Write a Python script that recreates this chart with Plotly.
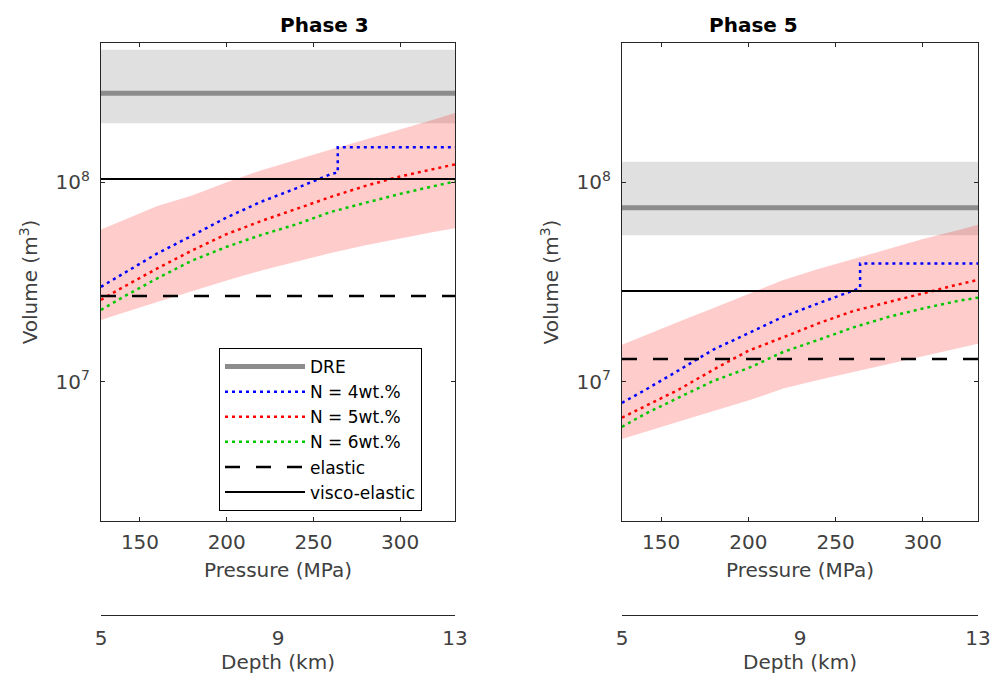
import plotly.graph_objects as go

# Pressure grid (MPa) shared by the model curves and uncertainty envelopes
pressure = [127.5, 140, 160, 180, 200, 220, 240, 260, 280, 300, 320, 331.6]
# Blue curve has a vertical step near 264 MPa
pressure_step = [127.5, 140, 160, 180, 200, 220, 240, 260, 264, 264, 331.6]

p_range = [127.53, 331.58]   # 5-13 km lithostatic
depth_range = [5, 13]
depth_ticks = [5, 9, 13]
pressure_ticks = [150, 200, 250, 300]
vol_ticks = [1e7, 1e8]
vol_ticktext = ["10<sup>7</sup>", "10<sup>8</sup>"]
vol_range = [2e6, 5e8]

# ---- Phase 3 ----
p3_n4 = [2.99e7, 3.47e7, 4.4e7, 5.4e7, 6.67e7, 8.0e7, 9.33e7, 1.1e8, 1.12e8, 1.5e8, 1.5e8]
p3_n5 = [2.57e7, 2.97e7, 3.7e7, 4.55e7, 5.5e7, 6.4e7, 7.35e7, 8.45e7, 9.6e7, 1.07e8, 1.17e8, 1.23e8]
p3_n6 = [2.29e7, 2.65e7, 3.3e7, 4.05e7, 4.75e7, 5.45e7, 6.15e7, 7.1e7, 7.9e7, 8.75e7, 9.6e7, 1.01e8]
p3_env_hi = [5.8e7, 6.45e7, 7.6e7, 8.6e7, 1.0e8, 1.15e8, 1.29e8, 1.46e8, 1.64e8, 1.84e8, 2.07e8, 2.23e8]
p3_env_lo = [2.04e7, 2.21e7, 2.51e7, 2.85e7, 3.22e7, 3.61e7, 4.01e7, 4.42e7, 4.84e7, 5.25e7, 5.65e7, 5.89e7]
p3_dre = 2.8e8
p3_dre_band = [1.98e8, 4.62e8]
p3_visco = 1.04e8
p3_elastic = 2.69e7

# ---- Phase 5 ----
p5_n4 = [7.83e6, 9.0e6, 1.14e7, 1.45e7, 1.75e7, 2.12e7, 2.47e7, 2.85e7, 2.95e7, 3.92e7, 3.92e7]
p5_n5 = [6.6e6, 7.5e6, 9.12e6, 1.15e7, 1.43e7, 1.67e7, 1.96e7, 2.26e7, 2.51e7, 2.77e7, 3.07e7, 3.24e7]
p5_n6 = [5.93e6, 6.84e6, 8.32e6, 1.01e7, 1.17e7, 1.41e7, 1.62e7, 1.87e7, 2.11e7, 2.33e7, 2.54e7, 2.64e7]
p5_env_hi = [1.53e7, 1.7e7, 2.0e7, 2.34e7, 2.75e7, 3.24e7, 3.67e7, 4.12e7, 4.62e7, 5.19e7, 5.75e7, 6.12e7]
p5_env_lo = [5.15e6, 5.57e6, 6.31e6, 7.13e6, 8.04e6, 9.23e6, 1.02e7, 1.12e7, 1.23e7, 1.35e7, 1.47e7, 1.55e7]
p5_dre = 7.45e7
p5_dre_band = [5.42e7, 1.27e8]
p5_visco = 2.85e7
p5_elastic = 1.3e7

names = ["DRE", "N = 4wt.%", "N = 5wt.%", "N = 6wt.%", "elastic", "visco-elastic"]

FONT = "DejaVu Sans"
AX = "#262626"
TXT = "#404040"
FS = 20

fig = go.Figure()


def add_panel(xa, ya, n4, n5, n6, hi, lo, dre, dre_band, visco, elastic, legend):
    x0, x1 = p_range
    common = dict(xaxis=xa, yaxis=ya, hoverinfo="skip")
    # DRE uncertainty band
    fig.add_trace(go.Scatter(x=[x0, x1, x1, x0], y=[dre_band[0], dre_band[0], dre_band[1], dre_band[1]],
                             fill="toself", fillcolor="#e0e0e0", line=dict(width=0),
                             mode="lines", showlegend=False, **common))
    # model envelope
    fig.add_trace(go.Scatter(x=pressure + pressure[::-1], y=hi + lo[::-1],
                             fill="toself", fillcolor="rgba(255,0,0,0.2)", line=dict(width=0),
                             mode="lines", showlegend=False, **common))
    fig.add_trace(go.Scatter(x=[x0, x1], y=[dre, dre], mode="lines", name=names[0],
                             line=dict(color="#8c8c8c", width=5), showlegend=legend, **common))
    dot = "3px,4px"
    fig.add_trace(go.Scatter(x=pressure_step, y=n4, mode="lines", name=names[1],
                             line=dict(color="#0000ff", width=2.5, dash=dot), showlegend=legend, **common))
    fig.add_trace(go.Scatter(x=pressure, y=n5, mode="lines", name=names[2],
                             line=dict(color="#ff0000", width=2.5, dash=dot), showlegend=legend, **common))
    fig.add_trace(go.Scatter(x=pressure, y=n6, mode="lines", name=names[3],
                             line=dict(color="#00c800", width=2.5, dash=dot), showlegend=legend, **common))
    fig.add_trace(go.Scatter(x=[x0, x1], y=[elastic, elastic], mode="lines", name=names[4],
                             line=dict(color="black", width=2.5, dash="15px,16px"), showlegend=legend, **common))
    fig.add_trace(go.Scatter(x=[x0, x1], y=[visco, visco], mode="lines", name=names[5],
                             line=dict(color="black", width=2), showlegend=legend, **common))


add_panel("x", "y", p3_n4, p3_n5, p3_n6, p3_env_hi, p3_env_lo, p3_dre, p3_dre_band, p3_visco, p3_elastic, True)
add_panel("x2", "y2", p5_n4, p5_n5, p5_n6, p5_env_hi, p5_env_lo, p5_dre, p5_dre_band, p5_visco, p5_elastic, False)

# invisible carriers for the depth axes
for xa, ya in (("x3", "y"), ("x4", "y2")):
    fig.add_trace(go.Scatter(x=depth_range, y=[vol_range[0], vol_range[0]], mode="lines",
                             line=dict(width=0), opacity=0, showlegend=False, hoverinfo="skip",
                             xaxis=xa, yaxis=ya))

W, H = 994, 674
ml, mr, mt, mb = 101, 16, 43, 59
pw = W - ml - mr
ph = H - mt - mb
dom_left = [0, (455 - ml) / pw]
dom_right = [(622 - ml) / pw, 1]
ydom = [(H - mb - 521) / ph, 1]

xcommon = dict(type="linear", range=p_range, tickvals=pressure_ticks, ticks="inside", ticklen=4,
               tickcolor=AX, showline=True, linecolor=AX, linewidth=1.2, mirror="ticks",
               showgrid=False, zeroline=False, ticklabelstandoff=3, automargin=False,
               tickfont=dict(family=FONT, size=FS, color=TXT),
               title=dict(text="Pressure (MPa)", font=dict(family=FONT, size=FS, color=TXT), standoff=9))
ycommon = dict(type="log", range=[6.30103, 8.69897], tickvals=vol_ticks, ticktext=vol_ticktext,
               ticks="inside", ticklen=4, tickcolor=AX, showline=True, linecolor=AX, linewidth=1.2,
               mirror="ticks", showgrid=False, zeroline=False, ticklabelstandoff=6, domain=ydom,
               automargin=False, tickfont=dict(family=FONT, size=FS, color=TXT),
               title=dict(text="Volume (m<sup>3</sup>)", font=dict(family=FONT, size=FS, color=TXT), standoff=12))
dcommon = dict(type="linear", range=depth_range, tickvals=depth_ticks, anchor="free", position=0,
               ticks="outside", ticklen=5, tickcolor="rgba(0,0,0,0)", showline=True, linecolor=AX,
               linewidth=1.2, showgrid=False, zeroline=False, automargin=False,
               tickfont=dict(family=FONT, size=FS, color=TXT),
               title=dict(text="Depth (km)", font=dict(family=FONT, size=FS, color=TXT), standoff=8))

fig.update_layout(
    width=W, height=H,
    margin=dict(l=ml, r=mr, t=mt, b=mb, autoexpand=False),
    paper_bgcolor="white", plot_bgcolor="rgba(0,0,0,0)",
    xaxis=dict(domain=dom_left, anchor="y", **xcommon),
    yaxis=dict(anchor="x", **ycommon),
    xaxis2=dict(domain=dom_right, anchor="y2", **xcommon),
    yaxis2=dict(anchor="x2", **ycommon),
    xaxis3=dict(domain=dom_left, overlaying="x", **dcommon),
    xaxis4=dict(domain=dom_right, overlaying="x2", **dcommon),
    legend=dict(x=(219 - ml) / pw, y=(H - mb - 348) / ph, xanchor="left", yanchor="top",
                bgcolor="white", bordercolor="black", borderwidth=1, itemwidth=80,
                font=dict(family=FONT, size=17, color="black"), tracegroupgap=0),
    showlegend=True,
    annotations=[
        dict(text="<b>Phase 3</b>", x=sum(dom_left) / 2, y=1 + (mt - 25) / ph, xref="paper", yref="paper",
             showarrow=False, font=dict(family=FONT, size=20, color="black"), yanchor="middle"),
        dict(text="<b>Phase 5</b>", x=sum(dom_right) / 2, y=1 + (mt - 25) / ph, xref="paper", yref="paper",
             showarrow=False, font=dict(family=FONT, size=20, color="black"), yanchor="middle"),
    ],
)

fig.write_html("out.html")
